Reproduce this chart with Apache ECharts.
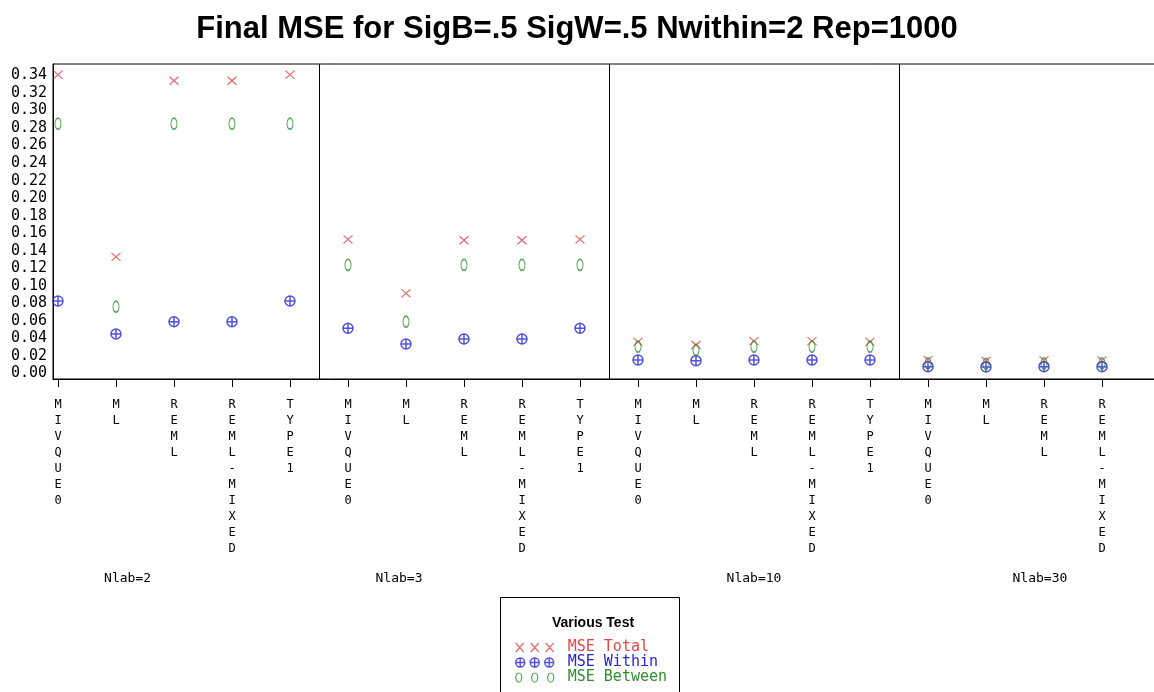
<!DOCTYPE html>
<html>
<head>
<meta charset="utf-8">
<script src="https://cdn.jsdelivr.net/npm/echarts@6/dist/echarts.min.js"></script>
<style>
html,body{margin:0;padding:0;background:#fff;}
#chart{width:1154px;height:692px;}
</style>
</head>
<body>
<div id="chart"></div>
<script>
// ---- data ----
const categories = ['MIVQUE0', 'ML', 'REML', 'REML-MIXED', 'TYPE1'];
const groups = ['Nlab=2', 'Nlab=3', 'Nlab=10', 'Nlab=30'];
const mseTotal = [0.341, 0.133, 0.334, 0.334, 0.341,
                  0.153, 0.0915, 0.152, 0.152, 0.153,
                  0.036, 0.0325, 0.037, 0.037, 0.036,
                  0.0155, 0.0145, 0.015, 0.015, 0.0155];
const mseWithin = [0.0827, 0.045, 0.059, 0.059, 0.0827,
                   0.0516, 0.0337, 0.0394, 0.0394, 0.0516,
                   0.0154, 0.0146, 0.0154, 0.0154, 0.0154,
                   0.0078, 0.0075, 0.0078, 0.0078, 0.0078];
const mseBetween = [0.285, 0.0762, 0.285, 0.285, 0.285,
                    0.1238, 0.0591, 0.1238, 0.1238, 0.1238,
                    0.0306, 0.0268, 0.0306, 0.0306, 0.0306,
                    0.0115, 0.011, 0.0115, 0.0115, 0.0115];
const yTicks = [0, 0.02, 0.04, 0.06, 0.08, 0.10, 0.12, 0.14, 0.16, 0.18,
                0.20, 0.22, 0.24, 0.26, 0.28, 0.30, 0.32, 0.34];

// ---- layout / style ----
const RED = '#e04848', BLUE = '#2626d6', GREEN = '#2e8e2e';
const MONO = 'DejaVu Sans Mono';
const nPos = groups.length * categories.length;
const positions = Array.from({length: nPos}, (_, i) => i);
const groupLabelPos = [1.2, 5.88, 12.0, 16.93];
const separators = [4.5, 9.5, 14.5];

const toPts = arr => arr.map((v, i) => [i, v]);

const xSym = 'path://M0,0L10,10M10,0L0,10';
const oplusSym = 'path://M5,0A5,5,0,1,1,5,10A5,5,0,1,1,5,0ZM5,0L5,10M0,5L10,5';
const zeroSym = 'path://M5,0A5,5,0,1,1,5,10A5,5,0,1,1,5,0Z';

const xIcon = 'path://M0,0L8,9M8,0L0,9M15,0L23,9M23,0L15,9M30,0L38,9M38,0L30,9';
let oplusIcon = 'path://';
let zeroIcon = 'path://';
[0, 14.5, 29].forEach(o => {
  const c = o + 4.5;
  oplusIcon += `M${c},0A4.5,4.5,0,1,1,${c},9A4.5,4.5,0,1,1,${c},0ZM${c},0L${c},9M${o},4.5L${o + 9},4.5`;
});
[0, 16, 32].forEach(o => {
  const c = o + 3;
  zeroIcon += `M${c},0A3,4.5,0,1,1,${c},9A3,4.5,0,1,1,${c},0Z`;
});

const chart = echarts.init(document.getElementById('chart'), null, {renderer: 'canvas'});

const option = {
  backgroundColor: '#fff',
  animation: false,
  title: {
    text: 'Final MSE for SigB=.5 SigW=.5 Nwithin=2 Rep=1000',
    left: 'center',
    top: 9,
    textStyle: {fontFamily: 'Liberation Sans', fontWeight: 'bold', fontSize: 31, color: '#000'}
  },
  grid: {
    left: 53, top: 64, width: 1131, height: 315,
    outerBoundsMode: 'none',
    show: true, borderColor: '#000', borderWidth: 1, backgroundColor: 'transparent',
    containLabel: false
  },
  xAxis: [
    {
      type: 'value', min: -0.086, max: 19.414, position: 'bottom',
      axisLine: {show: true, onZero: false, lineStyle: {color: '#000', width: 1}},
      axisTick: {show: true, length: 8, customValues: positions, lineStyle: {color: '#000'}},
      splitLine: {show: false},
      axisLabel: {
        show: true, customValues: positions, margin: 18,
        formatter: v => categories[Math.round(v) % categories.length].split('').join('\n'),
        fontFamily: MONO, fontSize: 12, lineHeight: 16, color: '#000',
        verticalAlign: 'top', align: 'center'
      }
    },
    {
      type: 'value', min: -0.086, max: 19.414, position: 'bottom', offset: 193,
      axisLine: {show: false}, axisTick: {show: false}, splitLine: {show: false},
      axisLabel: {
        show: true, customValues: groupLabelPos, margin: 0,
        formatter: v => groups[groupLabelPos.indexOf(v)],
        fontFamily: MONO, fontSize: 13, color: '#000'
      }
    }
  ],
  yAxis: {
    type: 'value', min: -0.0063, max: 0.3531,
    axisLine: {show: true, onZero: false, lineStyle: {color: '#000'}},
    axisTick: {show: false},
    splitLine: {show: false},
    axisLabel: {
      customValues: yTicks, margin: 6,
      formatter: v => v.toFixed(2),
      fontFamily: MONO, fontSize: 15, color: '#000'
    }
  },
  legend: {
    orient: 'vertical', left: 515, top: 640, z: 5,
    padding: 0,
    itemWidth: 38, itemHeight: 9, itemGap: 0,
    selectedMode: false,
    textStyle: {fontFamily: MONO, fontSize: 15, lineHeight: 15, padding: [0, 0, 0, 9]},
    data: [
      {name: 'MSE Total', icon: xIcon,
       itemStyle: {color: 'transparent', borderColor: RED, borderWidth: 1.2},
       textStyle: {color: RED}},
      {name: 'MSE Within', icon: oplusIcon,
       itemStyle: {color: 'transparent', borderColor: BLUE, borderWidth: 1.4},
       textStyle: {color: BLUE}},
      {name: 'MSE Between', icon: zeroIcon,
       itemStyle: {color: 'transparent', borderColor: GREEN, borderWidth: 1.2},
       textStyle: {color: GREEN}}
    ]
  },
  graphic: [
    {type: 'rect', z: 1, silent: true,
     shape: {x: 500.5, y: 597.5, width: 179, height: 110},
     style: {fill: '#fff', stroke: '#000', lineWidth: 1}},
    {type: 'text', x: 593, y: 623, z: 100,
     style: {text: 'Various Test', align: 'center', verticalAlign: 'middle',
             font: 'bold 14px "Liberation Sans"', fill: '#000'}}
  ],
  series: [
    {
      name: 'MSE Total', type: 'scatter', xAxisIndex: 0,
      data: toPts(mseTotal),
      symbol: xSym, symbolSize: [9, 8],
      itemStyle: {color: 'transparent', borderColor: RED, borderWidth: 1.2},
      markLine: {
        silent: true, symbol: 'none', animation: false,
        label: {show: false},
        lineStyle: {color: '#000', type: 'solid', width: 1},
        data: separators.map(s => ({xAxis: s}))
      }
    },
    {
      name: 'MSE Within', type: 'scatter', xAxisIndex: 0,
      data: toPts(mseWithin),
      symbol: oplusSym, symbolSize: 10,
      itemStyle: {color: 'transparent', borderColor: BLUE, borderWidth: 1.5}
    },
    {
      name: 'MSE Between', type: 'scatter', xAxisIndex: 0,
      data: toPts(mseBetween),
      symbol: zeroSym, symbolSize: [6, 11],
      itemStyle: {color: 'transparent', borderColor: GREEN, borderWidth: 1.3}
    }
  ]
};
chart.setOption(option);
</script>
</body>
</html>
